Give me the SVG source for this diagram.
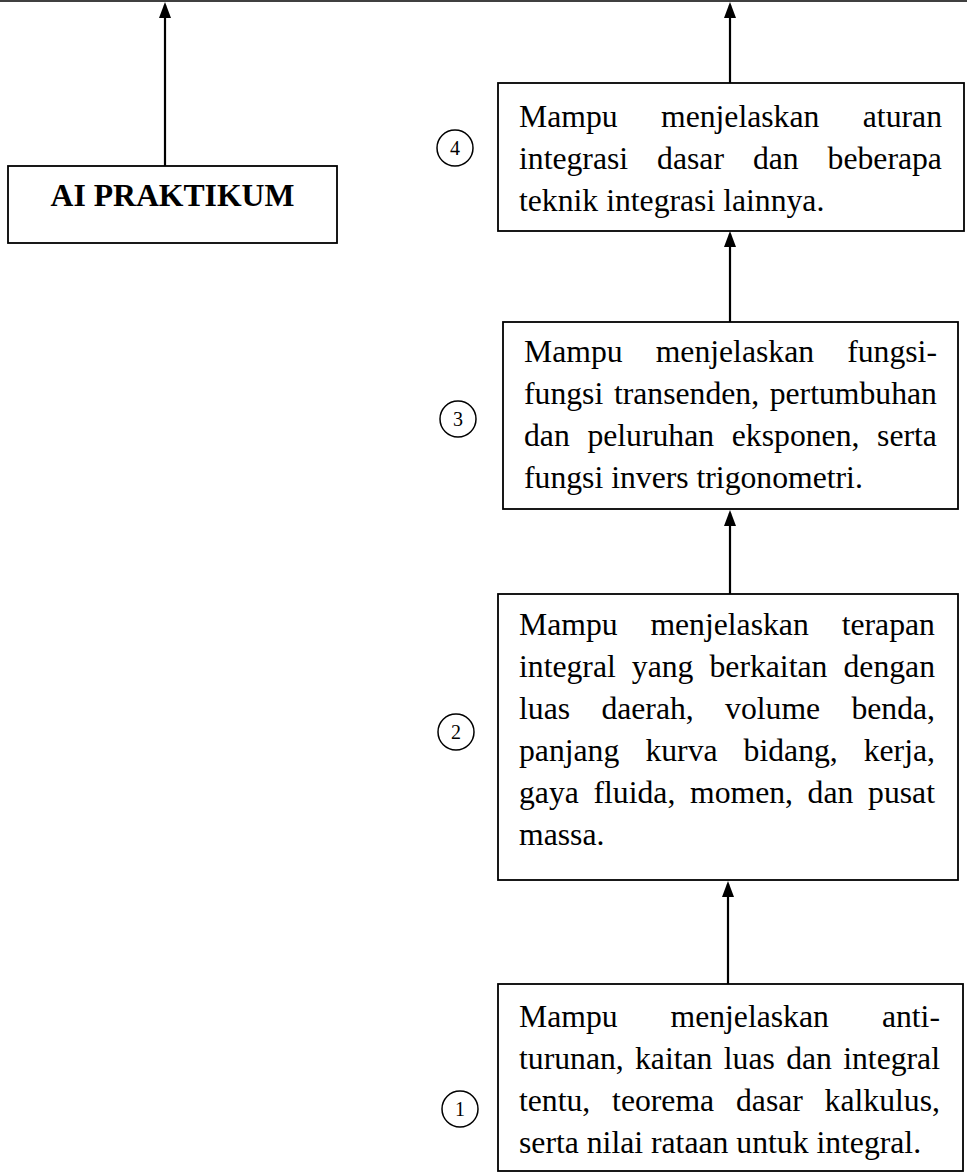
<svg xmlns="http://www.w3.org/2000/svg" width="967" height="1174" viewBox="0 0 967 1174">
<style>
.box{fill:#fff;stroke:#000;stroke-width:1.8}
.t{font-family:"Liberation Serif","Times New Roman",serif;font-size:31.7px;fill:#000}
.b{font-weight:bold}
.num{font-family:"Liberation Serif","Times New Roman",serif;font-size:20px;fill:#000;text-anchor:middle}
.circ{fill:none;stroke:#000;stroke-width:1.5}
.conn{stroke:#000;stroke-width:2.2;fill:none;marker-end:url(#ah)}
</style>
<defs>
<marker id="ah" markerUnits="userSpaceOnUse" markerWidth="16" markerHeight="12" refX="13" refY="6" orient="auto" viewBox="0 0 16 12">
<path d="M0,0 L16,6 L0,12 Z" fill="#000"/>
</marker>
</defs>
<rect width="967" height="1174" fill="#fff"/>
<line x1="0" y1="1" x2="967" y2="1" stroke="#000" stroke-width="1.6"/>
<g id="connectors">
<line class="conn" x1="165" y1="166" x2="165" y2="5"/>
<line class="conn" x1="730" y1="83" x2="730" y2="5"/>
<line class="conn" x1="730" y1="322" x2="730" y2="234"/>
<line class="conn" x1="730" y1="594" x2="730" y2="513"/>
<line class="conn" x1="728" y1="984" x2="728" y2="884"/>
</g>
<g id="node-ai">
<rect class="box" x="8" y="166" width="329" height="77"/>
<text class="t b" x="172.5" y="206" text-anchor="middle">AI PRAKTIKUM</text>
</g>
<g id="node-4">
<rect class="box" x="498" y="83" width="466" height="148"/>
<circle class="circ" cx="455" cy="148" r="18"/>
<text class="num" x="455" y="155">4</text>
<text class="t"><tspan x="519" y="127">Mampu</tspan><tspan x="661">menjelaskan</tspan><tspan x="862.8">aturan</tspan></text>
<text class="t"><tspan x="519" y="169">integrasi</tspan><tspan x="657.1">dasar</tspan><tspan x="752.9">dan</tspan><tspan x="827.6">beberapa</tspan></text>
<text class="t" x="519" y="211">teknik integrasi lainnya.</text>
</g>
<g id="node-3">
<rect class="box" x="503" y="322" width="455" height="187"/>
<circle class="circ" cx="458" cy="419" r="18"/>
<text class="num" x="458" y="426">3</text>
<text class="t"><tspan x="524" y="362">Mampu</tspan><tspan x="655.7">menjelaskan</tspan><tspan x="847.2">fungsi-</tspan></text>
<text class="t"><tspan x="524" y="404">fungsi</tspan><tspan x="613.9">transenden,</tspan><tspan x="769.7">pertumbuhan</tspan></text>
<text class="t"><tspan x="524" y="446">dan</tspan><tspan x="587.4">peluruhan</tspan><tspan x="731.8">eksponen,</tspan><tspan x="877.1">serta</tspan></text>
<text class="t" x="524" y="488">fungsi invers trigonometri.</text>
</g>
<g id="node-2">
<rect class="box" x="498" y="594" width="460" height="286"/>
<circle class="circ" cx="456" cy="732" r="18"/>
<text class="num" x="456" y="739">2</text>
<text class="t"><tspan x="519" y="635">Mampu</tspan><tspan x="650.4">menjelaskan</tspan><tspan x="841.7">terapan</tspan></text>
<text class="t"><tspan x="519" y="677">integral</tspan><tspan x="631.8">yang</tspan><tspan x="709.5">berkaitan</tspan><tspan x="843.5">dengan</tspan></text>
<text class="t"><tspan x="519" y="719">luas</tspan><tspan x="601.4">daerah,</tspan><tspan x="725.1">volume</tspan><tspan x="851.4">benda,</tspan></text>
<text class="t"><tspan x="519" y="761">panjang</tspan><tspan x="645.4">kurva</tspan><tspan x="743.6">bidang,</tspan><tspan x="863.7">kerja,</tspan></text>
<text class="t"><tspan x="519" y="803">gaya</tspan><tspan x="593.5">fluida,</tspan><tspan x="690">momen,</tspan><tspan x="807.6">dan</tspan><tspan x="868.1">pusat</tspan></text>
<text class="t" x="519" y="845">massa.</text>
</g>
<g id="node-1">
<rect class="box" x="498" y="984" width="465" height="187"/>
<circle class="circ" cx="460" cy="1109" r="18"/>
<text class="num" x="460" y="1116">1</text>
<text class="t"><tspan x="519" y="1027">Mampu</tspan><tspan x="670.5">menjelaskan</tspan><tspan x="881.9">anti-</tspan></text>
<text class="t"><tspan x="519" y="1069">turunan,</tspan><tspan x="635">kaitan</tspan><tspan x="723.8">luas</tspan><tspan x="786.2">dan</tspan><tspan x="843.2">integral</tspan></text>
<text class="t"><tspan x="519" y="1111">tentu,</tspan><tspan x="612.1">teorema</tspan><tspan x="736">dasar</tspan><tspan x="824.6">kalkulus,</tspan></text>
<text class="t" x="519" y="1153">serta nilai rataan untuk integral.</text>
</g>
</svg>
